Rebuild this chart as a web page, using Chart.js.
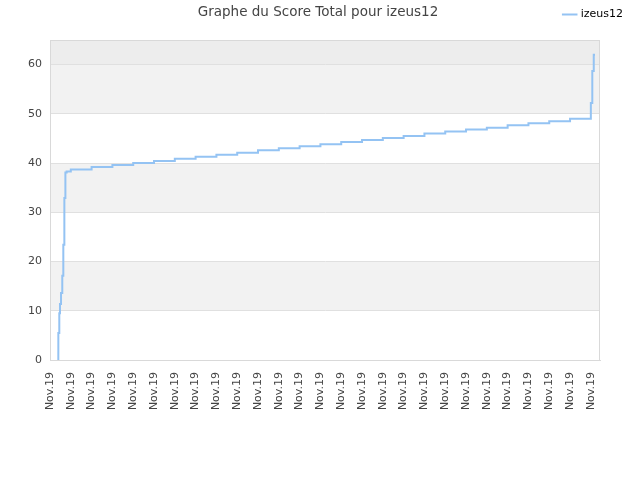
<!DOCTYPE html>
<html>
<head>
<meta charset="utf-8">
<script src="https://cdn.jsdelivr.net/npm/chart.js@4"></script>
<style>
html,body{margin:0;padding:0;background:#fff;}
#wrap{width:640px;height:480px;position:relative;}
</style>
</head>
<body>
<div id="wrap"><canvas id="c" width="640" height="480"></canvas></div>
<script>
// Data (x positions in tick units; each tick labelled "Nov.19")
const tickLabels = ["Nov.19","Nov.19","Nov.19","Nov.19","Nov.19","Nov.19","Nov.19","Nov.19","Nov.19","Nov.19","Nov.19","Nov.19","Nov.19","Nov.19","Nov.19","Nov.19","Nov.19","Nov.19","Nov.19","Nov.19","Nov.19","Nov.19","Nov.19","Nov.19","Nov.19","Nov.19","Nov.19"];
const xPositions = [0.40,0.401,0.447,0.48,0.53,0.59,0.64,0.69,0.74,0.80,
  1,2,3,4,5,6,7,8,9,10,11,12,13,14,15,16,17,18,19,20,21,22,23,24,25,26,
  26.07,26.14,26.2];
const scores = [0,1.5,5.5,9.5,11.4,13.6,17.1,23.4,32.9,38.1,
  38.3,38.7,39.2,39.6,40.0,40.4,40.9,41.3,41.7,42.1,42.6,43.0,43.4,43.8,44.3,44.7,45.1,45.5,46.0,46.4,46.8,47.2,47.7,48.1,48.5,49.0,
  52.2,58.7,62.0];
const seriesName = "izeus12";
const chartTitle = "Graphe du Score Total pour izeus12";
const yTicks = [0,10,20,30,40,50,60];

const points = xPositions.map((x,i)=>({x:x,y:scores[i]}));
const lineColor = '#94c3f3';
const fontFam = "'DejaVu Sans', sans-serif";

const bandPlugin = {
  id:'bands',
  afterLayout(chart){
    const l = chart.legend;
    if(l){ l.left+=33; l.right+=33; l.top-=10; l.bottom-=10; }
  },
  beforeDraw(chart){
    const {ctx, chartArea:a, scales:{y}} = chart;
    ctx.save();
    ctx.fillStyle='#ffffff';
    ctx.fillRect(a.left,a.top,a.right-a.left,a.bottom-a.top);
    const bands=[[10,20,'#f2f2f2'],[30,40,'#f2f2f2'],[50,60,'#f2f2f2'],[60,y.max,'#ededed']];
    bands.forEach(b=>{
      const t=y.getPixelForValue(b[1]), bt=y.getPixelForValue(b[0]);
      ctx.fillStyle=b[2];
      ctx.fillRect(a.left,t,a.right-a.left,bt-t);
    });
    ctx.restore();
  },
  afterDraw(chart){
    const {ctx, chartArea:a} = chart;
    ctx.save();
    ctx.strokeStyle='#d9d9d9';
    ctx.lineWidth=1;
    ctx.strokeRect(a.left+0.5,a.top+0.5,a.right-a.left-1,a.bottom-a.top);
    ctx.fillStyle='#444444';
    ctx.font="13.5px "+fontFam;
    ctx.textAlign='center';
    ctx.textBaseline='middle';
    ctx.fillText(chartTitle,318,12);
    ctx.restore();
  }
};

new Chart(document.getElementById('c'),{
  type:'line',
  data:{datasets:[{
    label:seriesName,
    data:points,
    borderColor:lineColor,
    backgroundColor:lineColor,
    borderWidth:2,
    pointRadius:0,
    stepped:'after',
    tension:0,
    fill:false
  }]},
  options:{
    responsive:false,
    animation:false,
    devicePixelRatio:1,
    layout:{padding:{left:0,right:40,top:9,bottom:0}},
    plugins:{
      legend:{
        display:true,position:'top',align:'end',
        labels:{usePointStyle:true,pointStyle:'line',boxWidth:12,color:'#000',font:{family:fontFam,size:11},padding:10}
      },
      title:{display:false},
      tooltip:{enabled:false}
    },
    scales:{
      x:{
        type:'linear',min:0,max:26.44,
        afterFit(s){s.height=120;},
        afterBuildTicks(s){s.ticks=tickLabels.map((l,i)=>({value:i}));},
        ticks:{
          autoSkip:false,minRotation:90,maxRotation:90,
          color:'#444',font:{family:fontFam,size:11},padding:12,
          callback:(v)=>tickLabels[v]
        },
        grid:{display:false,drawTicks:false},
        border:{color:'#d9d9d9'}
      },
      y:{
        min:0,max:65,
        afterFit(s){s.width=50;},
        afterBuildTicks(s){s.ticks=yTicks.map(v=>({value:v}));},
        ticks:{color:'#444',font:{family:fontFam,size:11},padding:8},
        grid:{color:'#e0e0e0',drawTicks:false},
        border:{color:'#d9d9d9'}
      }
    }
  },
  plugins:[bandPlugin]
});
</script>
</body>
</html>
